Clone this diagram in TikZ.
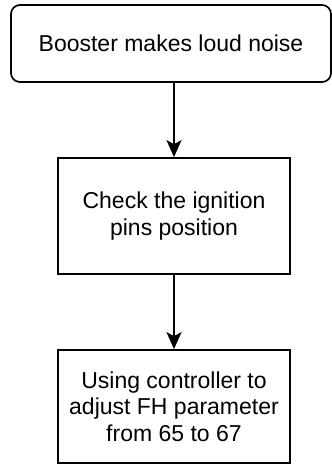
\documentclass[tikz,border=0pt]{standalone}
\usepackage{fontspec}
\setmainfont{Liberation Sans}
\usetikzlibrary{arrows.meta}
\begin{document}
\begin{tikzpicture}[x=1pt,y=-1pt,
  box/.style={draw=black, line width=1.7pt, fill=white, inner sep=0pt, align=center,
    font=\fontsize{23}{26.5}\selectfont},
  flow/.style={line width=1.7pt, -{Stealth[length=17pt,width=15pt,inset=4pt]}}]
\useasboundingbox (0,0) rectangle (332,466);
\node[box, rounded corners=9pt, minimum width=320pt, minimum height=77pt] (a) at (171,43.5) {Booster makes loud noise};
\node[box, minimum width=232pt, minimum height=116pt] (b) at (174,216) {Check the ignition\\pins position};
\node[box, minimum width=232pt, minimum height=113pt] (c) at (174,406.5) {Using controller to\\adjust FH parameter\\from 65 to 67};
\draw[flow] (a.south -| b.north) -- (b.north);
\draw[flow] (b.south) -- (c.north);
\end{tikzpicture}
\end{document}
